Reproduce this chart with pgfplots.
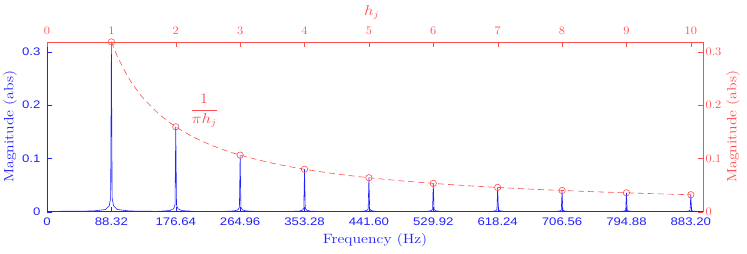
\documentclass[border=0pt]{standalone}
\usepackage{fontspec}
\newfontfamily\hv{Liberation Sans}
\usepackage{amsmath}
\usepackage{graphicx}
\usepackage{pgfplots}
\pgfplotsset{compat=1.18}
\definecolor{myblue}{rgb}{0.12,0.12,1}
\definecolor{myred}{rgb}{1,0.3,0.3}
\newcommand{\sx}[1]{\scalebox{1.2}[1]{\fontsize{11}{13}\selectfont\hv #1}}
\newcommand{\st}[1]{\scalebox{1.1}[1]{\fontsize{11.5}{14}\selectfont #1}}
\newcommand{\slab}[1]{\scalebox{1.17}[1]{\fontsize{13.5}{15}\selectfont #1}}
\begin{document}
\begin{tikzpicture}
\begin{axis}[name=ax1, scale only axis, width=657pt, height=170pt,
 xmin=0, xmax=900, ymin=0, ymax=0.3183,
 axis x line*=bottom, axis y line*=left,
 axis line style={myblue},
 xtick={0,88.32,176.64,264.96,353.28,441.60,529.92,618.24,706.56,794.88,883.20},
 xticklabels={\sx{0},\sx{88.32},\sx{176.64},\sx{264.96},\sx{353.28},\sx{441.60},\sx{529.92},\sx{618.24},\sx{706.56},\sx{794.88},\sx{883.20}},
 ytick={0,0.1,0.2,0.3}, yticklabels={\sx{0},\sx{0.1},\sx{0.2},\sx{0.3}},
 ticklabel style={text=myblue},
 xticklabel style={yshift=-2.5pt},
 yticklabel style={xshift=-3pt},
 tick style={myblue}, tick align=inside, major tick length=5pt,
 xlabel={\slab{Frequency (Hz)}}, ylabel={\slab{Magnitude (abs)}},
 xlabel style={at={(axis description cs:0.5,-0.1676)}, anchor=center},
 ylabel style={at={(axis description cs:-0.0563,0.5)}, anchor=center},
 label style={text=myblue},
 clip=false]
\addplot[myblue, line width=0.6pt] coordinates {
(0,0.0005)
(63.32,0.0013) (80.32,0.0041) (85.32,0.0111) (87.32,0.0255) (88.32,0.3183) (89.32,0.0255) (91.32,0.0111) (96.32,0.0041) (113.32,0.0013)
(151.64,0.0006) (168.64,0.0021) (173.64,0.0056) (175.64,0.0127) (176.64,0.1592) (177.64,0.0127) (179.64,0.0056) (184.64,0.0021) (201.64,0.0006)
(239.96,0.0004) (256.96,0.0014) (261.96,0.0037) (263.96,0.0085) (264.96,0.1061) (265.96,0.0085) (267.96,0.0037) (272.96,0.0014) (289.96,0.0004)
(328.28,0.0003) (345.28,0.0010) (350.28,0.0028) (352.28,0.0064) (353.28,0.0796) (354.28,0.0064) (356.28,0.0028) (361.28,0.0010) (378.28,0.0003)
(416.60,0.0003) (433.60,0.0008) (438.60,0.0022) (440.60,0.0051) (441.60,0.0637) (442.60,0.0051) (444.60,0.0022) (449.60,0.0008) (466.60,0.0003)
(504.92,0.0002) (521.92,0.0007) (526.92,0.0019) (528.92,0.0042) (529.92,0.0531) (530.92,0.0042) (532.92,0.0019) (537.92,0.0007) (554.92,0.0002)
(593.24,0.0002) (610.24,0.0006) (615.24,0.0016) (617.24,0.0036) (618.24,0.0455) (619.24,0.0036) (621.24,0.0016) (626.24,0.0006) (643.24,0.0002)
(681.56,0.0002) (698.56,0.0005) (703.56,0.0014) (705.56,0.0032) (706.56,0.0398) (707.56,0.0032) (709.56,0.0014) (714.56,0.0005) (731.56,0.0002)
(769.88,0.0001) (786.88,0.0005) (791.88,0.0012) (793.88,0.0028) (794.88,0.0354) (795.88,0.0028) (797.88,0.0012) (802.88,0.0005) (819.88,0.0001)
(858.20,0.0001) (875.20,0.0004) (880.20,0.0011) (882.20,0.0025) (883.20,0.0318) (884.20,0.0025) (886.20,0.0011) (891.20,0.0004) (900,0.0002)
};
\end{axis}
\begin{axis}[scale only axis, width=657pt, height=170pt,
 xmin=0, xmax=10.19022, ymin=0, ymax=0.3183,
 axis x line*=top, axis y line*=right,
 axis line style={myred},
 xtick={0,1,2,3,4,5,6,7,8,9,10},
 xticklabels={\st{0},\st{1},\st{2},\st{3},\st{4},\st{5},\st{6},\st{7},\st{8},\st{9},\st{10}},
 ytick={0,0.1,0.2,0.3}, yticklabels={\st{0},\st{0.1},\st{0.2},\st{0.3}},
 ticklabel style={text=myred},
 xticklabel style={yshift=4pt},
 yticklabel style={xshift=-1pt},
 tick style={myred}, tick align=inside, major tick length=5pt,
 xlabel={\slab{$h_j$}}, ylabel={\slab{Magnitude (abs)}},
 xlabel style={at={(axis description cs:0.495,1.175)}, anchor=center},
 ylabel style={at={(axis description cs:1.0457,0.5)}, anchor=center},
 label style={text=myred},
 clip=false]
\addplot[myred, line width=0.6pt, dash pattern=on 6pt off 4pt, smooth] coordinates {
(1,0.3183) (1.1,0.2894) (1.25,0.2546) (1.35,0.2358) (1.5,0.2122) (1.75,0.1819) (2,0.1592) (2.25,0.1415) (2.5,0.1273) (2.75,0.1157) (3,0.1061) (3.5,0.0909) (4,0.0796) (4.5,0.0707) (5,0.0637) (5.5,0.0579) (6,0.0531) (6.5,0.0490) (7,0.0455) (7.5,0.0424) (8,0.0398) (8.5,0.0374) (9,0.0354) (9.5,0.0335) (10,0.0318)
};
\addplot[myred, only marks, mark=o, mark size=3.2pt, line width=0.6pt] coordinates {
(1,0.3183) (2,0.1592) (3,0.1061) (4,0.0796) (5,0.0637) (6,0.0531) (7,0.0455) (8,0.0398) (9,0.0354) (10,0.0318)
};
\node[text=myred] at (axis cs:2.44,0.189) {\slab{$\dfrac{1}{\pi h_j}$}};
\path (rel axis cs:0,0) ++(-46pt,-42pt) coordinate (bbl);
\path (rel axis cs:1,1) ++(44pt,42pt) coordinate (bbr);
\path (bbl) rectangle (bbr);
\end{axis}
\end{tikzpicture}
\end{document}
